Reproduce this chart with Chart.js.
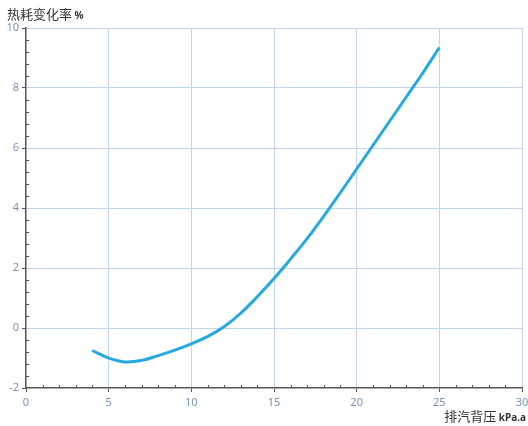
<!DOCTYPE html>
<html>
<head>
<meta charset="utf-8">
<script src="https://cdn.jsdelivr.net/npm/chart.js@4"></script>
<style>
  html, body { margin: 0; padding: 0; background: #fff; }
  #wrap { width: 528px; height: 426px; position: relative; }
</style>
</head>
<body>
<div id="wrap"><canvas id="chart" width="528" height="426"></canvas></div>
<script>
// exhaust back pressure (kPa.a) vs heat rate change (%)
const pressure = [4, 5, 6, 7, 8, 9, 10, 11, 12, 13, 14, 15, 16, 17, 18, 19, 20, 21, 22, 23, 24, 25];
const heatRateChange = [-0.75, -1.0, -1.13, -1.08, -0.92, -0.74, -0.53, -0.28, 0.05, 0.5, 1.05, 1.65, 2.3, 2.98, 3.72, 4.5, 5.3, 6.1, 6.9, 7.7, 8.5, 9.35];
const yTitle = '热耗变化率';
const yUnit = '%';
const xTitle = '排汽背压';
const xUnit = 'kPa.a';

const tickColor = '#7a92b8';
const axisColor = '#555';
const gridColor = '#c3d3ea';

function isMult(v, m) {
    return Math.abs(v / m - Math.round(v / m)) < 1e-6;
}

// titles + minor ticks drawn inside the plot
const extras = {
    id: 'extras',
    afterDraw(chart) {
        const ctx = chart.ctx;
        const xs = chart.scales.x, ys = chart.scales.y;
        ctx.save();
        ctx.strokeStyle = axisColor;
        ctx.lineWidth = 1;
        ctx.beginPath();
        xs.ticks.forEach(t => {
            if (isMult(t.value, 5)) return;
            const px = Math.round(xs.getPixelForValue(t.value)) + 0.5;
            ctx.moveTo(px, xs.top);
            ctx.lineTo(px, xs.top - 3);
        });
        ys.ticks.forEach(t => {
            if (isMult(t.value, 2)) return;
            const py = Math.round(ys.getPixelForValue(t.value)) + 0.5;
            ctx.moveTo(ys.right, py);
            ctx.lineTo(ys.right + 3, py);
        });
        ctx.stroke();

        ctx.fillStyle = '#333';
        ctx.textBaseline = 'alphabetic';
        ctx.textAlign = 'left';
        ctx.font = '13px "Noto Sans CJK SC"';
        ctx.fillText(yTitle, 7, 19);
        let w = ctx.measureText(yTitle).width;
        ctx.font = 'bold 10px "Noto Sans", sans-serif';
        ctx.fillText(' ' + yUnit, 7 + w, 19);

        ctx.font = 'bold 10px "Noto Sans", sans-serif';
        ctx.textAlign = 'right';
        ctx.fillText(xUnit, 526, 421);
        let uw = ctx.measureText(' ' + xUnit).width;
        ctx.font = '13px "Noto Sans CJK SC"';
        ctx.fillText(xTitle, 526 - uw, 421);
        ctx.restore();
    }
};

new Chart(document.getElementById('chart').getContext('2d'), {
    type: 'line',
    data: {
        datasets: [{
            data: pressure.map((p, i) => ({ x: p, y: heatRateChange[i] })),
            borderColor: '#27a9df',
            borderWidth: 3,
            pointRadius: 0,
            tension: 0.4,
            fill: false
        }]
    },
    options: {
        responsive: false,
        animation: false,
        layout: { padding: { top: 28, right: 6, left: 0, bottom: 0 } },
        plugins: { legend: { display: false }, tooltip: { enabled: false } },
        scales: {
            x: {
                type: 'linear',
                min: 0, max: 30,
                afterFit: s => { s.height = 38; s.paddingLeft = 0; s.paddingRight = 0; },
                ticks: {
                    stepSize: 1,
                    autoSkip: false,
                    maxRotation: 0,
                    color: tickColor,
                    font: { size: 11, family: '"Noto Sans", sans-serif' },
                    padding: 4,
                    callback: v => isMult(v, 5) ? v : ''
                },
                grid: {
                    color: c => isMult(c.tick.value, 5) && c.tick.value !== 0 ? gridColor : 'rgba(0,0,0,0)',
                    tickColor: c => isMult(c.tick.value, 5) ? axisColor : 'rgba(0,0,0,0)',
                    tickLength: 4,
                    lineWidth: 1
                },
                border: { color: axisColor, width: 1.5 }
            },
            y: {
                min: -2, max: 10,
                afterFit: s => { s.width = 26; s.paddingTop = 0; s.paddingBottom = 0; },
                ticks: {
                    stepSize: 0.4,
                    autoSkip: false,
                    color: tickColor,
                    font: { size: 11, family: '"Noto Sans", sans-serif' },
                    padding: 3,
                    callback: v => isMult(v, 2) ? Math.round(v) : ''
                },
                grid: {
                    color: c => isMult(c.tick.value, 2) && c.tick.value !== -2 ? gridColor : 'rgba(0,0,0,0)',
                    tickColor: c => isMult(c.tick.value, 2) ? axisColor : 'rgba(0,0,0,0)',
                    tickLength: 4,
                    lineWidth: 1
                },
                border: { color: axisColor, width: 1.5 }
            }
        }
    },
    plugins: [extras]
});
</script>
</body>
</html>
